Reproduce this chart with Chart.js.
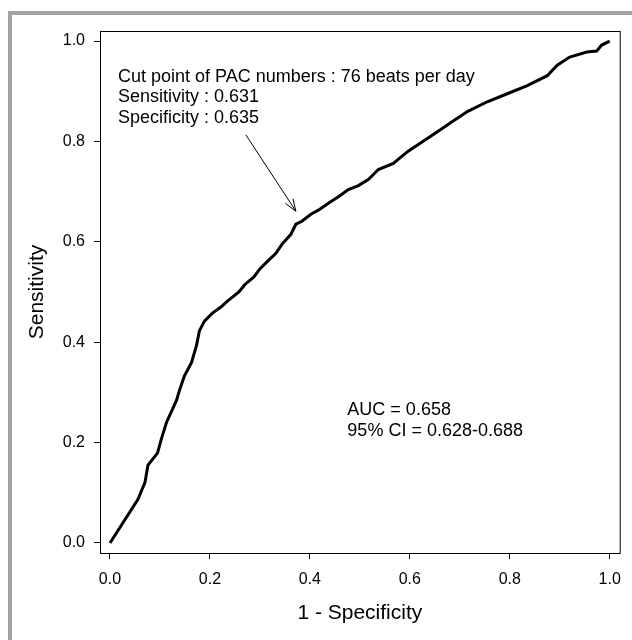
<!DOCTYPE html>
<html>
<head>
<meta charset="utf-8">
<script src="https://cdn.jsdelivr.net/npm/chart.js@4"></script>
<style>
  html, body { margin: 0; padding: 0; background: #fff; }
  #wrap { position: relative; width: 632px; height: 640px; overflow: hidden; }
  #frame {
    position: absolute; left: 8px; top: 11px; width: 700px; height: 700px;
    border-left: 4px solid #a3a3a3; border-top: 4px solid #a3a3a3;
  }
  canvas { position: absolute; left: 0; top: 0; }
</style>
</head>
<body>
<div id="wrap">
  <div id="frame"></div>
  <canvas id="roc" width="632" height="640"></canvas>
</div>
<script>
// ROC curve (1 - specificity, sensitivity)
let rocX = [0, 0.056, 0.070, 0.076, 0.095, 0.103, 0.113, 0.133, 0.139, 0.149, 0.163, 0.173, 0.179, 0.189,
  0.205, 0.222, 0.235, 0.258, 0.270, 0.288, 0.300, 0.314, 0.332, 0.344, 0.362, 0.372, 0.384, 0.402,
  0.417, 0.437, 0.457, 0.477, 0.497, 0.517, 0.537, 0.567, 0.596, 0.626, 0.656, 0.686, 0.716, 0.755,
  0.795, 0.835, 0.875, 0.895, 0.920, 0.954, 0.974, 0.984, 1];
let rocY = [0, 0.087, 0.121, 0.155, 0.179, 0.208, 0.240, 0.284, 0.304, 0.333, 0.359, 0.393, 0.423, 0.442,
  0.458, 0.470, 0.482, 0.500, 0.515, 0.530, 0.546, 0.560, 0.577, 0.595, 0.615, 0.635, 0.641, 0.655,
  0.663, 0.677, 0.690, 0.704, 0.712, 0.724, 0.744, 0.756, 0.780, 0.800, 0.820, 0.840, 0.860, 0.879,
  0.895, 0.911, 0.931, 0.952, 0.968, 0.978, 0.980, 0.992, 1];

let tickValues = [0, 0.2, 0.4, 0.6, 0.8, 1.0];

let cutPointLines = [
  "Cut point of PAC numbers : 76 beats per day",
  "Sensitivity : 0.631",
  "Specificity : 0.635",
];
let aucLines = ["AUC = 0.658", "95% CI = 0.628-0.688"];

// arrow from the label to the cut point, in data units
let arrowFrom = [0.272, 0.813];
let arrowTo = [0.372, 0.661];

const FONT = "'Liberation Sans', Arial, sans-serif";

let points = rocX.map((x, i) => ({ x: x, y: rocY[i] }));

// box round the plot, arrow and the two text blocks
let extras = {
  id: "extras",
  afterDraw(chart) {
    const ctx = chart.ctx;
    const a = chart.chartArea;
    const xs = chart.scales.x;
    const ys = chart.scales.y;
    ctx.save();
    ctx.strokeStyle = "#000";
    ctx.lineWidth = 1;
    ctx.strokeRect(a.left + 0.5, a.top + 0.5, a.right - a.left, a.bottom - a.top);

    ctx.fillStyle = "#000";
    ctx.font = "18px " + FONT;
    ctx.textBaseline = "middle";
    ctx.textAlign = "left";
    cutPointLines.forEach((t, i) => {
      ctx.fillText(t, xs.getPixelForValue(0.016), ys.getPixelForValue(0.929) + i * 20.5);
    });
    aucLines.forEach((t, i) => {
      ctx.fillText(t, xs.getPixelForValue(0.475), ys.getPixelForValue(0.265) + i * 21);
    });

    let x1 = xs.getPixelForValue(arrowFrom[0]);
    let y1 = ys.getPixelForValue(arrowFrom[1]);
    let x2 = xs.getPixelForValue(arrowTo[0]);
    let y2 = ys.getPixelForValue(arrowTo[1]);
    let ang = Math.atan2(y2 - y1, x2 - x1);
    ctx.lineWidth = 1;
    ctx.beginPath();
    ctx.moveTo(x1, y1);
    ctx.lineTo(x2, y2);
    ctx.moveTo(x2 - 13 * Math.cos(ang - 0.35), y2 - 13 * Math.sin(ang - 0.35));
    ctx.lineTo(x2, y2);
    ctx.lineTo(x2 - 13 * Math.cos(ang + 0.35), y2 - 13 * Math.sin(ang + 0.35));
    ctx.stroke();
    ctx.restore();
  },
};

let axisTicks = (scale) => {
  scale.ticks = tickValues.map((v) => ({ value: v }));
};

let rocChart = new Chart(document.getElementById("roc").getContext("2d"), {
  type: "scatter",
  data: {
    datasets: [
      {
        data: points,
        showLine: true,
        borderColor: "#000",
        borderWidth: 3,
        pointRadius: 0,
        tension: 0,
        fill: false,
      },
    ],
  },
  options: {
    responsive: false,
    animation: false,
    layout: { padding: { left: 0, right: 9, top: 31, bottom: 0 } },
    plugins: {
      legend: { display: false },
      tooltip: { enabled: false },
    },
    scales: {
      x: {
        type: "linear",
        min: -0.02,
        max: 1.02,
        afterBuildTicks: axisTicks,
        afterFit: (s) => { s.height = 87; },
        border: { display: true, color: "#000", width: 1 },
        grid: { display: true, drawOnChartArea: false, drawTicks: true, tickLength: 6, color: "#000" },
        ticks: {
          color: "#000",
          padding: 11,
          maxRotation: 0,
          font: { family: FONT, size: 16 },
          callback: (v) => v.toFixed(1),
        },
        title: {
          display: true,
          text: "1 - Specificity",
          color: "#000",
          padding: { top: 0, bottom: 14 },
          font: { family: FONT, size: 21 },
        },
      },
      y: {
        type: "linear",
        min: -0.02,
        max: 1.02,
        afterBuildTicks: axisTicks,
        afterFit: (s) => { s.width = 100; },
        border: { display: true, color: "#000", width: 1 },
        grid: { display: true, drawOnChartArea: false, drawTicks: true, tickLength: 6, color: "#000" },
        ticks: {
          color: "#000",
          padding: 9,
          font: { family: FONT, size: 16 },
          callback: (v) => v.toFixed(1),
        },
        title: {
          display: true,
          text: "Sensitivity",
          color: "#000",
          padding: { top: 25, bottom: 0 },
          font: { family: FONT, size: 21 },
        },
      },
    },
  },
  plugins: [extras],
});
</script>
</body>
</html>
